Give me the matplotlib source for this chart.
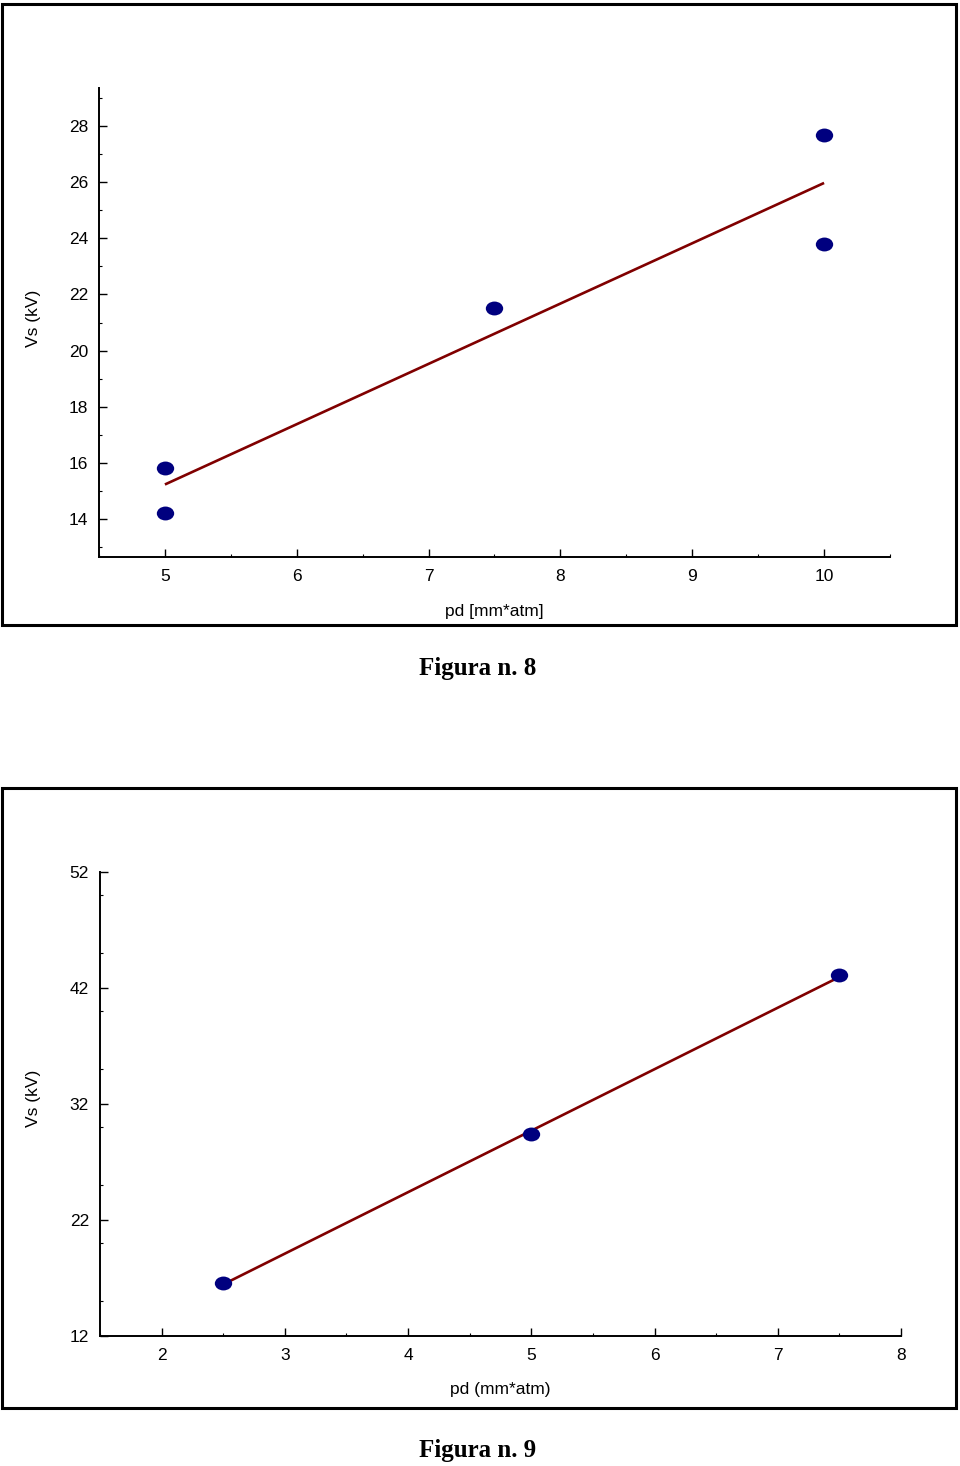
import numpy as np
import matplotlib
matplotlib.use("Agg")
import matplotlib.pyplot as plt
from matplotlib.patches import Rectangle
from matplotlib.path import Path
from matplotlib.transforms import Affine2D
from matplotlib.ticker import MultipleLocator

# ---- data ----
fig8_x = [5, 5, 7.5, 10, 10]
fig8_y = [15.8, 14.2, 21.5, 27.7, 23.8]
fig8_xticks = [5, 6, 7, 8, 9, 10]
fig8_yticks = [14, 16, 18, 20, 22, 24, 26, 28]

fig9_x = [2.5, 5, 7.5]
fig9_y = [16.6, 29.4, 43.1]
fig9_xticks = [2, 3, 4, 5, 6, 7, 8]
fig9_yticks = [12, 22, 32, 42, 52]

plt.rcParams['font.family'] = ['Liberation Sans', 'DejaVu Sans']

W, H = 960, 1466
fig = plt.figure(figsize=(W / 100, H / 100), dpi=100)

# ellipse marker (slightly wider than tall)
ell = Path.unit_circle().transformed(Affine2D().scale(1.25, 1.0))

POINT_C = '#00007f'
LINE_C = '#800000'
TICK_FS = 12.5
LAB_FS = 12.5


def frac(px_left, px_top, px_right, px_bottom):
    return [px_left / W, 1 - px_bottom / H, (px_right - px_left) / W,
            (px_bottom - px_top) / H]


def frame(l, t, r, b):
    fig.patches.append(Rectangle((l / W, 1 - b / H), (r - l) / W, (b - t) / H,
                                 transform=fig.transFigure, fill=False,
                                 edgecolor='black', linewidth=2.2))


def style(ax):
    for s in ['top', 'right']:
        ax.spines[s].set_visible(False)
    for s in ['left', 'bottom']:
        ax.spines[s].set_linewidth(1.4)
    ax.tick_params(which='major', direction='in', length=6, width=1.0,
                   labelsize=TICK_FS)
    ax.tick_params(which='minor', direction='in', length=2.5, width=0.8)
    ax.tick_params(axis='y', which='major', pad=8)
    ax.tick_params(axis='x', which='major', pad=8.5)


def draw(ax, xs, ys):
    coef = np.polyfit(xs, ys, 1)
    xl = np.array([min(xs), max(xs)])
    ax.plot(xl, np.polyval(coef, xl), color=LINE_C, linewidth=1.9,
            solid_capstyle='butt', zorder=2)
    ax.plot(xs, ys, linestyle='none', marker=ell, markersize=12.5,
            color=POINT_C, markeredgewidth=0, zorder=3, clip_on=False)


# ---- Figura n. 8 ----
frame(2, 4, 956, 625)
ax1 = fig.add_axes(frac(99, 88, 890, 557))
draw(ax1, fig8_x, fig8_y)
ax1.set_xlim(4.5, 10.5)
ax1.set_ylim(12.64, 29.36)
ax1.set_xticks(fig8_xticks)
ax1.set_yticks(fig8_yticks)
ax1.xaxis.set_minor_locator(MultipleLocator(0.5))
ax1.yaxis.set_minor_locator(MultipleLocator(1))
style(ax1)
ax1.set_xlabel('pd [mm*atm]', fontsize=LAB_FS)
ax1.xaxis.set_label_coords(0.5, (557 - 604) / 469)
ax1.set_ylabel('Vs (kV)', fontsize=LAB_FS)
ax1.yaxis.set_label_coords((41 - 99) / 791, (557 - 318) / 469)
fig.text(478 / W, 1 - 668 / H, 'Figura n. 8', ha='center', va='center',
         fontsize=18, fontweight='bold', family='Liberation Serif')

# ---- Figura n. 9 ----
frame(2, 788, 956, 1408)
ax2 = fig.add_axes(frac(100, 872, 901, 1336))
draw(ax2, fig9_x, fig9_y)
ax2.set_xlim(1.5, 8)
ax2.set_ylim(12, 52)
ax2.set_xticks(fig9_xticks)
ax2.set_yticks(fig9_yticks)
ax2.xaxis.set_minor_locator(MultipleLocator(0.5))
ax2.yaxis.set_minor_locator(MultipleLocator(5))
style(ax2)
ax2.set_xlabel('pd (mm*atm)', fontsize=LAB_FS)
ax2.xaxis.set_label_coords(0.5, (1336 - 1382) / 464)
ax2.set_ylabel('Vs (kV)', fontsize=LAB_FS)
ax2.yaxis.set_label_coords((41 - 100) / 801, (1336 - 1098) / 464)
fig.text(478 / W, 1 - 1451 / H, 'Figura n. 9', ha='center', va='center',
         fontsize=18, fontweight='bold', family='Liberation Serif')

fig.savefig('out.png', dpi=100)
